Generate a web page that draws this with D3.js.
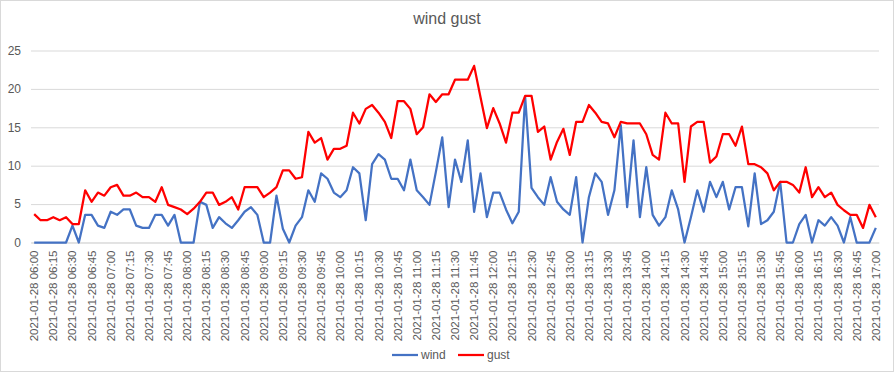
<!DOCTYPE html>
<html>
<head>
<meta charset="utf-8">
<script src="https://cdn.jsdelivr.net/npm/d3@7"></script>
<style>
  body { margin: 0; background: #fff; }
  text { font-family: "Liberation Sans", Arial, sans-serif; }
</style>
</head>
<body>
<div id="chart"></div>
<script>
// 1: DATA (5-minute readings, 06:00 - 17:00)
const seriesNames = ["wind", "gust"];

const windValues = [
    0, 0, 0, 0, 0, 0, 2.2, 0, 3.6, 3.6, 2.2, 1.9, 4.0, 3.6, 4.3, 4.3, 2.2, 1.9, 1.9, 3.6,
    3.6, 2.2, 3.6, 0, 0, 0, 5.3, 4.9, 1.9, 3.3, 2.5, 1.9, 2.9, 4.0, 4.6, 3.6, 0, 0, 6.1, 1.8,
    0, 2.2, 3.3, 6.8, 5.3, 9.0, 8.3, 6.5, 5.9, 6.8, 9.8, 9.0, 2.9, 10.2, 11.5, 10.8, 8.3, 8.3, 6.8, 10.8,
    6.8, 5.9, 4.9, 9.2, 13.7, 4.6, 10.8, 7.9, 13.3, 4.0, 9.0, 3.3, 6.5, 6.5, 4.3, 2.5, 4.0, 19.0, 7.1, 5.9,
    4.9, 8.5, 5.3, 4.3, 3.6, 8.5, 0, 5.9, 9.0, 7.9, 3.6, 6.8, 15.3, 4.6, 13.3, 3.3, 9.8, 3.6, 2.2, 3.3,
    6.8, 4.3, 0, 3.3, 6.8, 4.0, 7.9, 5.9, 7.9, 4.3, 7.2, 7.2, 2.1, 9.0, 2.4, 2.9, 4.0, 7.9, 0, 0,
    2.4, 3.6, 0, 2.9, 2.2, 3.3, 2.2, 0, 3.3, 0, 0, 0, 1.9
];

const gustValues = [
    3.7, 2.9, 2.9, 3.3, 2.9, 3.3, 2.4, 2.4, 6.8, 5.3, 6.5, 6.1, 7.2, 7.5, 6.1, 6.1, 6.5, 5.9, 5.9, 5.3,
    7.2, 4.9, 4.6, 4.3, 3.7, 4.4, 5.3, 6.5, 6.5, 4.9, 5.3, 5.9, 4.3, 7.2, 7.2, 7.2, 5.9, 6.5, 7.2, 9.4,
    9.4, 8.3, 8.5, 14.4, 13.0, 13.6, 10.8, 12.2, 12.2, 12.6, 16.9, 15.5, 17.4, 17.9, 16.9, 15.7, 13.6, 18.4, 18.4, 17.4,
    14.1, 15.0, 19.3, 18.3, 19.3, 19.3, 21.2, 21.2, 21.2, 23.0, 18.9, 14.9, 17.5, 15.5, 13.0, 16.9, 16.9, 19.1, 19.1, 14.4,
    15.1, 10.8, 13.1, 14.8, 11.4, 15.7, 15.7, 17.9, 16.9, 15.7, 15.5, 13.7, 15.7, 15.5, 15.5, 15.5, 14.1, 11.4, 10.8, 16.9,
    15.5, 15.5, 7.9, 15.1, 15.7, 15.7, 10.4, 11.2, 14.1, 14.1, 12.6, 15.1, 10.2, 10.2, 9.8, 9.0, 6.8, 7.9, 7.9, 7.5,
    6.5, 9.8, 5.9, 7.2, 5.9, 6.5, 4.9, 4.2, 3.6, 3.6, 1.9, 4.9, 3.3
];

// category labels: one every 5 minutes, from 06:00 to 17:00
const startTime = new Date(2021, 0, 28, 6, 0);
const timeLabels = windValues.map((_, i) => d3.timeFormat("%Y-%m-%d %H:%M")(d3.timeMinute.offset(startTime, i * 5)));
const yTicks = [0, 5, 10, 15, 20, 25];

const colors = { wind: "#4472C4", gust: "#FF0000" };

// 2: SIZES
const W = 894, H = 372;
const margin = { top: 50.5, right: 15, bottom: 129.5, left: 31 };
const width = W - margin.left - margin.right;
const height = H - margin.top - margin.bottom;

const svg = d3.select("#chart")
    .append("svg")
    .attr("width", W)
    .attr("height", H);

// chart border
svg.append("rect")
    .attr("x", 0.5).attr("y", 0.5)
    .attr("width", W - 1).attr("height", H - 1)
    .attr("fill", "#fff")
    .attr("stroke", "#d9d9d9");

const g = svg.append("g")
    .attr("transform", `translate(${margin.left},${margin.top})`);

// 3: SCALES
const xScale = d3.scaleBand()
    .domain(timeLabels)
    .range([0, width]);

const yScale = d3.scaleLinear()
    .domain([0, 25])
    .range([height, 0]);

const xPos = d => xScale(d) + xScale.bandwidth() / 2;

// 4: GRID + AXES
const yAxis = g.append("g")
    .call(d3.axisLeft(yScale).tickValues(yTicks).tickSize(-width).tickPadding(10));
yAxis.select(".domain").remove();
yAxis.selectAll(".tick line").attr("stroke", "#d9d9d9");
yAxis.selectAll(".tick text")
    .attr("fill", "#595959")
    .style("font-size", "12px");

const xAxis = g.append("g")
    .attr("transform", `translate(0,${height})`)
    .call(d3.axisBottom(xScale)
        .tickValues(timeLabels.filter((d, i) => i % 3 === 0))
        .tickSize(0));
xAxis.select(".domain").attr("stroke", "#d9d9d9");
xAxis.selectAll(".tick text")
    .attr("fill", "#595959")
    .style("font-size", "11.5px")
    .attr("text-anchor", "end")
    .attr("transform", "rotate(-90)")
    .attr("x", -8)
    .attr("y", 0)
    .attr("dy", "0.35em");

// 5: LINES
const line = d3.line()
    .x(d => xPos(d.time))
    .y(d => yScale(d.value));

const seriesData = {
    wind: windValues.map((v, i) => ({ time: timeLabels[i], value: v })),
    gust: gustValues.map((v, i) => ({ time: timeLabels[i], value: v }))
};

seriesNames.forEach(name => {
    g.append("path")
        .datum(seriesData[name])
        .attr("fill", "none")
        .attr("stroke", colors[name])
        .attr("stroke-width", 2.25)
        .attr("stroke-linejoin", "round")
        .attr("d", line);
});

// 6: TITLE + LEGEND
svg.append("text")
    .attr("x", W / 2)
    .attr("y", 24)
    .attr("text-anchor", "middle")
    .attr("fill", "#595959")
    .style("font-size", "16px")
    .text("wind gust");

const legend = svg.append("g")
    .attr("transform", "translate(392, 355)");

seriesNames.forEach((name, i) => {
    const lx = i * 66;
    legend.append("line")
        .attr("x1", lx).attr("x2", lx + 26)
        .attr("y1", 0).attr("y2", 0)
        .attr("stroke", colors[name])
        .attr("stroke-width", 2.25);
    legend.append("text")
        .attr("x", lx + 29)
        .attr("y", 0)
        .attr("dy", "0.35em")
        .attr("fill", "#595959")
        .style("font-size", "12px")
        .text(name);
});
</script>
</body>
</html>
